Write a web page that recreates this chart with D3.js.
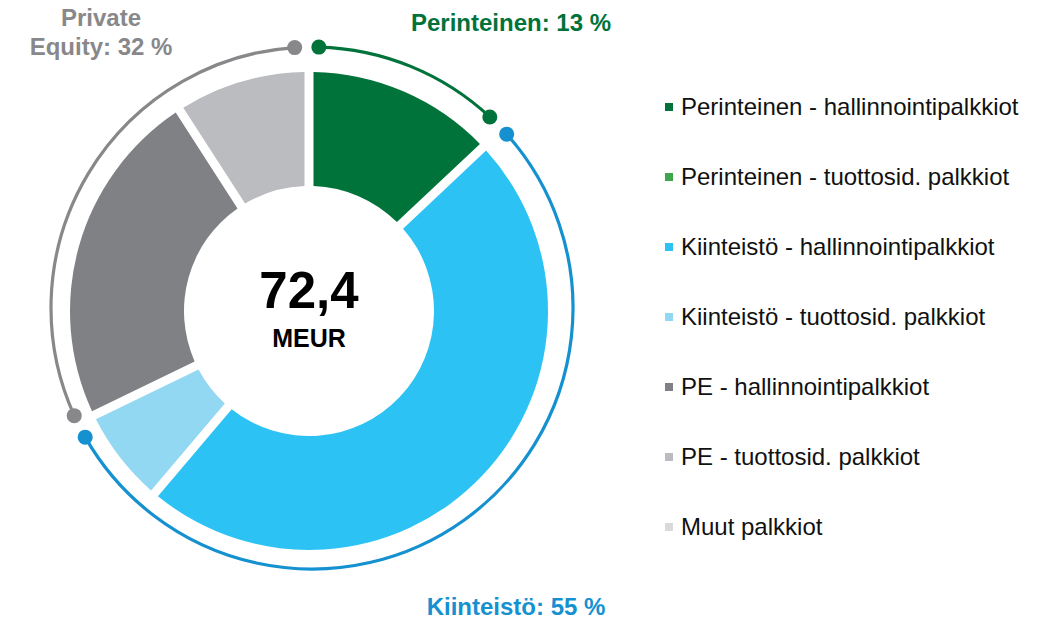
<!DOCTYPE html>
<html>
<head>
    <meta charset="utf-8">
    <title>Palkkiotuotot</title>
    <script src="https://d3js.org/d3.v7.min.js"></script>
    <style>
        body { margin: 0; background: #fff; }
        text { font-family: "Liberation Sans", Arial, sans-serif; }
        .legend text { font-size: 24px; fill: #111; }
        .group-label { font-size: 24px; font-weight: bold; }
    </style>
</head>
<body>
    <svg width="1043" height="619"></svg>
    <script>
        // slices, clockwise from 12 o'clock (MEUR)
        var categories = [
            "Perinteinen - hallinnointipalkkiot",
            "Perinteinen - tuottosid. palkkiot",
            "Kiinteistö - hallinnointipalkkiot",
            "Kiinteistö - tuottosid. palkkiot",
            "PE - hallinnointipalkkiot",
            "PE - tuottosid. palkkiot",
            "Muut palkkiot"
        ];
        var values = [9.4, 0, 34.9, 4.8, 16.7, 6.6, 0];
        var colors = ["#00733a", "#3ea64b", "#2cc3f4", "#93d8f3", "#808184", "#bbbcc0", "#d9d9da"];
        var groupOf = [0, 0, 1, 1, 2, 2, 3];

        // outer ring groups
        var groups = ["Perinteinen: 13 %", "Kiinteistö: 55 %", "Private Equity: 32 %"];
        var groupColors = ["#00733a", "#1591d0", "#88888b"];
        var total = "72,4";
        var unit = "MEUR";

        var svg = d3.select("svg");
        var cx = 309, cy = 311;

        var slices = categories.map(function(c, i) {
            return { name: c, value: values[i], color: colors[i] };
        });

        var pie = d3.pie().sort(null).value(function(d) { return d.value; });
        var arcs = pie(slices).filter(function(d) { return d.value > 0; });

        var arc = d3.arc()
            .innerRadius(125)
            .outerRadius(239)
            .padAngle(0.045)
            .padRadius(200);

        var g = svg.append("g").attr("transform", "translate(" + cx + "," + cy + ")");

        g.selectAll(".slice")
            .data(arcs)
            .enter().append("path")
            .attr("class", "slice")
            .attr("d", arc)
            .attr("fill", function(d) { return d.data.color; });

        // group totals for the outer ring
        var groupTotals = groups.map(function(name, gi) {
            var s = 0;
            values.forEach(function(v, i) { if (groupOf[i] === gi) s += v; });
            return { name: name, value: s, color: groupColors[gi] };
        });
        var groupArcs = pie(groupTotals);

        var ringR = 261;
        var startInset = 1.5 * Math.PI / 180, endInset = 3.8 * Math.PI / 180;
        var ring = svg.append("g").attr("transform", "translate(" + (cx + 3) + "," + (cy - 3) + ")");

        groupArcs.forEach(function(d) {
            var a0 = d.startAngle + startInset, a1 = d.endAngle - endInset;
            var p = d3.path();
            p.arc(0, 0, ringR, a0 - Math.PI / 2, a1 - Math.PI / 2);
            ring.append("path")
                .attr("d", p.toString())
                .attr("fill", "none")
                .attr("stroke", d.data.color)
                .attr("stroke-width", 3.2);
            [a0, a1].forEach(function(a) {
                ring.append("circle")
                    .attr("cx", ringR * Math.sin(a))
                    .attr("cy", -ringR * Math.cos(a))
                    .attr("r", 7.5)
                    .attr("fill", d.data.color);
            });
        });

        // group labels
        svg.append("text").attr("class", "group-label")
            .attr("x", 511).attr("y", 31)
            .attr("text-anchor", "middle")
            .attr("fill", groupColors[0])
            .text(groups[0]);

        svg.append("text").attr("class", "group-label")
            .attr("x", 516).attr("y", 615)
            .attr("text-anchor", "middle")
            .attr("fill", groupColors[1])
            .text(groups[1]);

        var pe = svg.append("text").attr("class", "group-label")
            .attr("text-anchor", "middle")
            .attr("fill", groupColors[2]);
        pe.append("tspan").attr("x", 101).attr("y", 26).text("Private");
        pe.append("tspan").attr("x", 101).attr("y", 55).text("Equity: 32 %");

        // centre text
        svg.append("text")
            .attr("x", cx).attr("y", 308)
            .attr("text-anchor", "middle")
            .attr("font-size", 51).attr("font-weight", "bold")
            .attr("fill", "#000")
            .text(total);
        svg.append("text")
            .attr("x", cx).attr("y", 347)
            .attr("text-anchor", "middle")
            .attr("font-size", 25).attr("font-weight", "bold")
            .attr("fill", "#000")
            .text(unit);

        // legend
        var y = d3.scalePoint().domain(categories).range([115, 535]);
        var legend = svg.append("g").attr("class", "legend")
            .selectAll("g")
            .data(slices)
            .enter().append("g")
            .attr("transform", function(d) { return "translate(665," + y(d.name) + ")"; });

        legend.append("rect")
            .attr("x", 0).attr("y", -12)
            .attr("width", 8).attr("height", 8)
            .attr("fill", function(d) { return d.color; });

        legend.append("text")
            .attr("x", 16).attr("y", 0)
            .text(function(d) { return d.name; });
    </script>
</body>
</html>
